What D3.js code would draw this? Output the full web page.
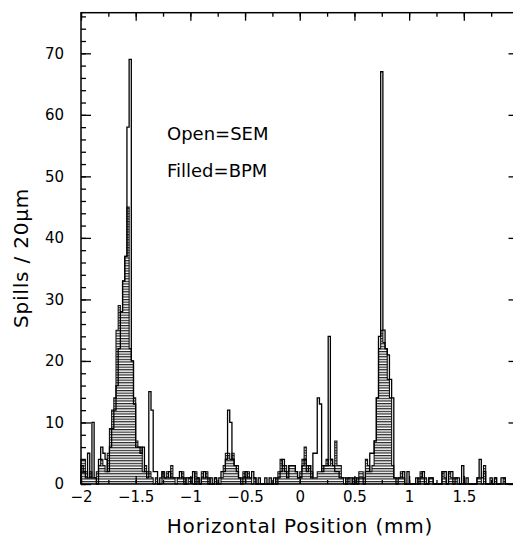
<!DOCTYPE html>
<html>
<head>
<meta charset="utf-8">
<script src="https://cdn.jsdelivr.net/npm/d3@7"></script>
<style>
  body { margin: 0; background: #fff; }
  text { font-family: "DejaVu Sans", sans-serif; fill: #000; }
</style>
</head>
<body>
<div id="chart"></div>
<script>
// histogram bins: 20 um wide, starting at -2 mm
var binStart = -2;
var binWidth = 0.02;

// SEM (open histogram), one count per bin
var semCounts = [
  3, 2, 1, 5, 1, 10, 1, 0, 4, 6,
  5, 4, 2, 6, 9, 12, 16, 22, 28, 33,
  37, 58, 69, 20, 13, 6, 6, 5, 6, 2,
  1, 15, 12, 2, 2, 0, 1, 2, 1, 1,
  2, 1, 1, 1, 1, 2, 1, 0, 1, 1,
  1, 2, 0, 1, 0, 1, 2, 1, 0, 1,
  0, 1, 0, 1, 2, 2, 4, 12, 10, 4,
  3, 2, 1, 0, 1, 2, 1, 1, 2, 1,
  0, 1, 0, 0, 1, 0, 1, 0, 1, 0,
  1, 2, 4, 2, 1, 3, 3, 3, 2, 1,
  1, 3, 4, 2, 3, 1, 5, 5, 14, 13,
  2, 3, 3, 24, 4, 3, 2, 2, 1, 1,
  1, 0, 1, 1, 0, 1, 0, 1, 1, 0,
  2, 2, 5, 5, 7, 14, 24, 67, 25, 22,
  21, 17, 14, 1, 0, 1, 1, 2, 0, 2,
  0, 0, 0, 1, 0, 1, 2, 0, 0, 1,
  1, 0, 0, 0, 0, 2, 2, 0, 2, 2,
  0, 1, 1, 0, 3, 0, 1, 0, 0, 0,
  0, 1, 4, 1, 2, 0, 0, 1, 0, 1,
  0, 0, 1, 1, 0, 0, 0, 0, 0, 0
];

// BPM (filled, hatched histogram)
var bpmCounts = [
  4, 4, 2, 1, 2, 1, 1, 2, 3, 4,
  3, 2, 5, 9, 12, 14, 25, 29, 28, 33,
  37, 45, 22, 20, 14, 7, 6, 6, 2, 3,
  2, 2, 1, 0, 1, 0, 0, 2, 1, 2,
  1, 3, 1, 0, 1, 1, 2, 1, 0, 1,
  1, 0, 2, 1, 0, 2, 1, 2, 1, 0,
  0, 1, 0, 0, 1, 3, 5, 5, 4, 5,
  3, 3, 1, 1, 2, 1, 2, 1, 0, 1,
  0, 0, 0, 0, 0, 0, 0, 0, 0, 1,
  2, 4, 3, 3, 2, 3, 3, 3, 2, 1,
  2, 4, 6, 3, 3, 2, 1, 1, 2, 2,
  3, 3, 4, 3, 4, 3, 7, 3, 3, 1,
  0, 1, 1, 0, 1, 0, 1, 2, 2, 1,
  4, 3, 2, 3, 7, 14, 22, 25, 23, 22,
  17, 14, 3, 1, 1, 1, 2, 1, 0, 0,
  0, 0, 0, 0, 1, 2, 1, 1, 0, 1,
  1, 0, 0, 0, 0, 2, 1, 0, 2, 1,
  1, 1, 0, 0, 0, 0, 0, 0, 0, 0,
  0, 1, 1, 0, 3, 0, 0, 0, 0, 1,
  0, 0, 0, 1, 0, 0, 0, 0, 0, 0
];

var xTickValues = [-2, -1.5, -1, -0.5, 0, 0.5, 1, 1.5];
var yTickValues = [0, 10, 20, 30, 40, 50, 60, 70];
var legendLines = ['Open=SEM', 'Filled=BPM'];

var width = 513;
var height = 538;
var plotL = 81, plotR = 518.5, plotT = 12.7, plotB = 484;

var x = d3.scaleLinear().domain([-2, 2]).range([plotL, plotR]);
var y = d3.scaleLinear().domain([0, 76.6]).range([plotB, plotT]);
var fmt = d3.format('');

var svg = d3.select('#chart')
  .append('svg')
  .attr('width', width)
  .attr('height', height);

// horizontal hatching for the filled histogram
svg.append('defs')
  .append('pattern')
  .attr('id', 'hatch')
  .attr('patternUnits', 'userSpaceOnUse')
  .attr('width', 6)
  .attr('height', 2.6)
  .append('rect')
  .attr('x', 0)
  .attr('y', 0)
  .attr('width', 6)
  .attr('height', 1.2)
  .attr('fill', '#222');

function stepPoints(counts) {
  var pts = counts.map(function(v, i) { return [binStart + i * binWidth, v]; });
  pts.push([binStart + counts.length * binWidth, counts[counts.length - 1]]);
  return pts;
}

// filled histogram: hatched stepped area with its outline
var bpmPts = stepPoints(bpmCounts);
var area = d3.area()
  .x(function(d) { return x(d[0]); })
  .y0(y(0))
  .y1(function(d) { return y(d[1]); })
  .curve(d3.curveStepAfter);
svg.append('path')
  .datum(bpmPts)
  .attr('d', area)
  .attr('fill', 'url(#hatch)');

var step = d3.line()
  .x(function(d) { return x(d[0]); })
  .y(function(d) { return y(d[1]); })
  .curve(d3.curveStepAfter);
svg.append('path')
  .datum([[binStart, 0]].concat(bpmPts))
  .attr('d', step)
  .attr('fill', 'none')
  .attr('stroke', '#111')
  .attr('stroke-width', 1.1);

// open histogram as a step outline
svg.append('path')
  .datum([[binStart, 0]].concat(stepPoints(semCounts)))
  .attr('d', step)
  .attr('fill', 'none')
  .attr('stroke', '#000')
  .attr('stroke-width', 1.3);

// axes (ticks pointing inward on all four sides)
function clean(g) {
  g.select('.domain').remove();
  g.selectAll('.tick line').attr('stroke', '#000').attr('stroke-width', 1.3);
}
var minorY = d3.range(0, 77, 2);
var minorX = d3.range(-2, 2.01, 0.25);

svg.append('g').attr('transform', 'translate(' + plotL + ',0)')
  .call(d3.axisLeft(y).tickValues(minorY).tickSize(-5).tickFormat(''))
  .call(clean);
svg.append('g').attr('transform', 'translate(' + plotL + ',0)')
  .call(d3.axisLeft(y).tickValues(yTickValues).tickSize(-10).tickPadding(17).tickFormat(fmt))
  .call(clean)
  .selectAll('text').style('font-size', '15px');
svg.append('g').attr('transform', 'translate(' + plotR + ',0)')
  .call(d3.axisRight(y).tickValues(minorY).tickSize(-5).tickFormat(''))
  .call(clean);
svg.append('g').attr('transform', 'translate(' + plotR + ',0)')
  .call(d3.axisRight(y).tickValues(yTickValues).tickSize(-10).tickFormat(''))
  .call(clean);

svg.append('g').attr('transform', 'translate(0,' + plotB + ')')
  .call(d3.axisBottom(x).tickValues(minorX).tickSize(-4).tickFormat(''))
  .call(clean);
svg.append('g').attr('transform', 'translate(0,' + plotB + ')')
  .call(d3.axisBottom(x).tickValues(xTickValues).tickSize(-8).tickPadding(7).tickFormat(fmt))
  .call(clean)
  .selectAll('text').style('font-size', '15px');
svg.append('g').attr('transform', 'translate(0,' + plotT + ')')
  .call(d3.axisTop(x).tickValues(minorX).tickSize(-4).tickFormat(''))
  .call(clean);
svg.append('g').attr('transform', 'translate(0,' + plotT + ')')
  .call(d3.axisTop(x).tickValues(xTickValues.concat([2])).tickSize(-8).tickFormat(''))
  .call(clean);

// frame
svg.append('rect')
  .attr('x', plotL)
  .attr('y', plotT)
  .attr('width', plotR - plotL)
  .attr('height', plotB - plotT)
  .attr('fill', 'none')
  .attr('stroke', '#000')
  .attr('stroke-width', 1.5);

// titles
svg.append('text')
  .attr('x', 300)
  .attr('y', 533)
  .attr('text-anchor', 'middle')
  .style('font-size', '20px')
  .style('letter-spacing', '0.8px')
  .text('Horizontal Position (mm)');

svg.append('text')
  .attr('transform', 'translate(28,258) rotate(-90)')
  .attr('text-anchor', 'middle')
  .style('font-size', '20px')
  .style('letter-spacing', '0.8px')
  .text('Spills / 20\u03bcm');

svg.selectAll('.legend')
  .data(legendLines)
  .enter()
  .append('text')
  .attr('class', 'legend')
  .attr('x', 167)
  .attr('y', function(d, i) { return 140 + i * 37; })
  .style('font-size', '18px')
  .text(function(d) { return d; });
</script>
</body>
</html>
